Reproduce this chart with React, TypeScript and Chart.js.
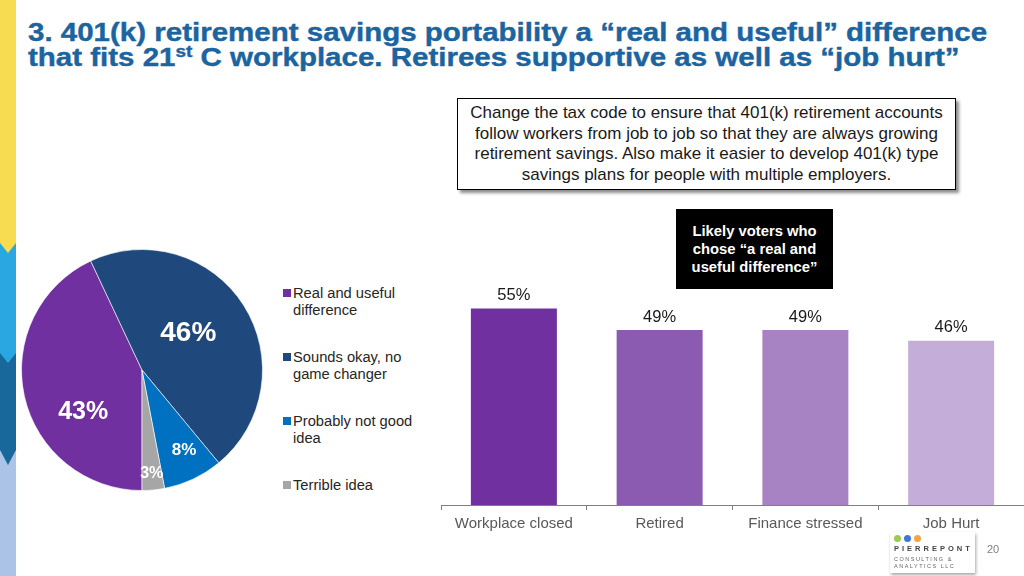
import React, { useEffect, useRef } from "react";
import { Chart, registerables } from "chart.js";

Chart.register(...registerables);

// ---- Data ----
const pieCategories = [
  "Real and useful difference",
  "Sounds okay, no game changer",
  "Probably not good idea",
  "Terrible idea",
];
const pieLegendLines = [
  ["Real and useful", "difference"],
  ["Sounds okay, no", "game changer"],
  ["Probably not good", "idea"],
  ["Terrible idea"],
];
const pieValues = [43, 46, 8, 3];
const pieColors = ["#7030A0", "#1F497D", "#0070C0", "#A6A6A6"];

const barCategories = ["Workplace closed", "Retired", "Finance stressed", "Job Hurt"];
const barValues = [55, 49, 49, 46];
const barColors = ["#7030A0", "#8B5AB1", "#A883C4", "#C5ADD9"];

// label styling for pie (radius fraction, angle shift in degrees, font size)
const pieLabelRadius = [0.6, 0.49, 0.75, 0.86];
const pieLabelShift = [-23, -6, -2.5, 0];
const pieLabelSize = [25, 28, 17, 16];

const FONT = '"Liberation Sans", Arial, sans-serif';

function PieChart() {
  const ref = useRef<HTMLCanvasElement | null>(null);
  useEffect(() => {
    if (!ref.current) return;
    const labelPlugin = {
      id: "pieLabels",
      afterDatasetsDraw(chart: any) {
        const ctx = chart.ctx;
        const meta = chart.getDatasetMeta(0);
        meta.data.forEach((arc: any, i: number) => {
          const p = arc.getProps(["x", "y", "startAngle", "endAngle", "outerRadius"], true);
          const mid = (p.startAngle + p.endAngle) / 2 + (pieLabelShift[i] * Math.PI) / 180;
          const r = p.outerRadius * pieLabelRadius[i];
          const x = p.x + Math.cos(mid) * r;
          const y = p.y + Math.sin(mid) * r;
          ctx.save();
          ctx.fillStyle = "#FFFFFF";
          ctx.font = `bold ${pieLabelSize[i]}px ${FONT}`;
          ctx.textAlign = "center";
          ctx.textBaseline = "middle";
          ctx.fillText(`${pieValues[i]}%`, x, y);
          ctx.restore();
        });
      },
    };
    const chart = new Chart(ref.current, {
      type: "pie",
      data: {
        labels: pieCategories,
        datasets: [
          {
            data: pieValues,
            backgroundColor: pieColors,
            borderColor: "rgba(255,255,255,0.6)",
            borderWidth: 1,
          },
        ],
      },
      options: {
        responsive: false,
        maintainAspectRatio: false,
        animation: false,
        rotation: 180,
        layout: { padding: 0 },
        plugins: { legend: { display: false }, tooltip: { enabled: false } },
      },
      plugins: [labelPlugin],
    });
    return () => chart.destroy();
  }, []);
  return (
    <canvas
      ref={ref}
      width={242}
      height={242}
      style={{ position: "absolute", left: 21, top: 249, width: 242, height: 242 }}
    />
  );
}

function BarChart() {
  const ref = useRef<HTMLCanvasElement | null>(null);
  useEffect(() => {
    if (!ref.current) return;
    const valuePlugin = {
      id: "barValues",
      afterDatasetsDraw(chart: any) {
        const ctx = chart.ctx;
        const meta = chart.getDatasetMeta(0);
        meta.data.forEach((bar: any, i: number) => {
          ctx.save();
          ctx.fillStyle = "#1a1a1a";
          ctx.font = `16.5px ${FONT}`;
          ctx.textAlign = "center";
          ctx.textBaseline = "middle";
          ctx.fillText(`${barValues[i]}%`, bar.x, bar.y - 13);
          ctx.restore();
        });
      },
    };
    const chart = new Chart(ref.current, {
      type: "bar",
      data: {
        labels: barCategories,
        datasets: [
          {
            data: barValues,
            backgroundColor: barColors,
            borderWidth: 0,
            categoryPercentage: 1,
            barPercentage: 0.59,
          },
        ],
      },
      options: {
        responsive: false,
        maintainAspectRatio: false,
        animation: false,
        layout: { padding: 0 },
        plugins: { legend: { display: false }, tooltip: { enabled: false } },
        scales: {
          x: {
            offset: true,
            grid: {
              display: true,
              offset: true,
              drawOnChartArea: false,
              drawTicks: true,
              tickLength: 5,
              color: "#7f7f7f",
            },
            border: { display: true, color: "#7f7f7f", width: 1 },
            ticks: {
              color: "#595959",
              padding: 5,
              font: { family: FONT, size: 15 },
              maxRotation: 0,
              autoSkip: false,
            },
          },
          y: { display: false, min: 0, max: 63 },
        },
      },
      plugins: [valuePlugin],
    });
    return () => chart.destroy();
  }, []);
  return (
    <canvas
      ref={ref}
      width={583}
      height={258}
      style={{ position: "absolute", left: 441, top: 280, width: 583, height: 258 }}
    />
  );
}

function Legend() {
  return (
    <div style={{ position: "absolute", left: 283, top: 285, fontFamily: FONT, fontSize: 14.7, color: "#262626" }}>
      {pieLegendLines.map((lines, i) => (
        <div key={i} style={{ position: "absolute", left: 0, top: i * 64, width: 160 }}>
          <div
            style={{
              position: "absolute",
              left: 0,
              top: 4,
              width: 8,
              height: 8,
              background: pieColors[i],
            }}
          />
          <div style={{ position: "absolute", left: 10, top: 0, lineHeight: "17px", whiteSpace: "nowrap" }}>
            {lines.map((l, j) => (
              <div key={j}>{l}</div>
            ))}
          </div>
        </div>
      ))}
    </div>
  );
}

function SideStrip() {
  return (
    <svg width={16} height={576} style={{ position: "absolute", left: 0, top: 0 }}>
      <rect x={0} y={440} width={16} height={136} fill="#AAC3E6" />
      <polygon points="0,350 16,350 16,450 8,465 0,450" fill="#19689B" />
      <polygon points="0,235 16,235 16,353 8,363 0,353" fill="#29A7E0" />
      <polygon points="0,0 16,0 16,243 8,253 0,243" fill="#F7DC50" />
    </svg>
  );
}

function Logo() {
  return (
    <div
      style={{
        position: "absolute",
        left: 890,
        top: 532,
        width: 85,
        height: 41,
        background: "#fff",
        boxShadow: "1px 2px 3px rgba(0,0,0,0.35)",
        fontFamily: FONT,
      }}
    >
      <div style={{ position: "absolute", left: 4, top: 3, display: "flex", gap: 3 }}>
        <div style={{ width: 7, height: 7, borderRadius: 4, background: "#9BCB4B" }} />
        <div style={{ width: 7, height: 7, borderRadius: 4, background: "#3C78D8" }} />
        <div style={{ width: 7, height: 7, borderRadius: 4, background: "#F2A541" }} />
      </div>
      <div style={{ position: "absolute", left: 4, top: 12, fontSize: 7.5, letterSpacing: 3, color: "#444", fontWeight: "bold" }}>
        PIERREPONT
      </div>
      <div style={{ position: "absolute", left: 4, top: 24, fontSize: 5.5, letterSpacing: 1.5, color: "#666", lineHeight: "7px" }}>
        CONSULTING &amp;
        <br />
        ANALYTICS LLC
      </div>
    </div>
  );
}

export default function App() {
  return (
    <div
      style={{
        position: "fixed",
        left: 0,
        top: 0,
        width: 1024,
        height: 576,
        background: "#fff",
        overflow: "hidden",
        fontFamily: FONT,
      }}
    >
      <SideStrip />
      <div
        style={{
          position: "absolute",
          left: 28,
          top: 20,
          fontFamily: FONT,
          fontWeight: "bold",
          fontSize: 25,
          lineHeight: "25px",
          color: "#1B64A0",
          whiteSpace: "nowrap",
          transform: "scaleX(1.18)",
          transformOrigin: "0 0",
          WebkitTextStroke: "0.4px #1B64A0",
        }}
      >
        <div>3. 401(k) retirement savings portability a “real and useful” difference</div>
        <div>
          that fits 21<sup style={{ fontSize: 16, lineHeight: 0, verticalAlign: "9px" }}>st</sup> C workplace. Retirees
          supportive as well as “job hurt”
        </div>
      </div>

      <div
        style={{
          position: "absolute",
          left: 457,
          top: 98,
          width: 497,
          height: 86,
          border: "1.5px solid #000",
          boxShadow: "3px 3px 3px rgba(0,0,0,0.45)",
          background: "#fff",
          textAlign: "center",
          fontSize: 17,
          lineHeight: "20.7px",
          color: "#1a1a1a",
          paddingTop: 4,
          boxSizing: "content-box",
          whiteSpace: "nowrap",
        }}
      >
        Change the tax code to ensure that 401(k) retirement accounts
        <br />
        follow workers from job to job so that they are always growing
        <br />
        retirement savings. Also make it easier to develop 401(k) type
        <br />
        savings plans for people with multiple employers.
      </div>

      <div
        style={{
          position: "absolute",
          left: 676,
          top: 209,
          width: 157,
          height: 80,
          background: "#000",
          color: "#fff",
          fontWeight: "bold",
          fontSize: 14.8,
          lineHeight: "18px",
          textAlign: "center",
          boxSizing: "border-box",
          paddingTop: 13,
          whiteSpace: "nowrap",
        }}
      >
        Likely voters who
        <br />
        chose “a real and
        <br />
        useful difference”
      </div>

      <PieChart />
      <Legend />
      <BarChart />
      <Logo />
      <div style={{ position: "absolute", left: 987, top: 543, fontSize: 11, color: "#7f7f7f" }}>20</div>
    </div>
  );
}
